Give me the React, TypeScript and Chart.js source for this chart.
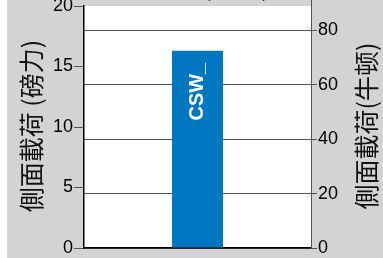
import React, { useEffect, useRef } from 'react';
import { Chart, registerables } from 'chart.js';

Chart.register(...registerables);

// ---- data ----
const categories = ['CSW_'];
const lateralLoadLbf = [16.3];
const leftTickValues = [0, 5, 10, 15, 20];
const rightTickValues = [0, 20, 40, 60, 80];
const LBF_TO_N = 4.448;
const leftAxisTitle = '側面載荷 (磅力)';
const rightAxisTitle = '側面載荷(牛顿)';
const chartTitlePrefix = '側面載荷 ';
const chartTitle = '側面載荷 (磅力)';

const W = 376;
const H = 288;
const TICK_FONT = '"Liberation Sans", Arial, sans-serif';
const CJK_FONT = '"Noto Sans CJK TC", "Noto Sans CJK SC", sans-serif';

export default function App() {
  const ref = useRef<HTMLCanvasElement>(null);

  useEffect(() => {
    const canvas = ref.current!;
    const customPlugin = {
      id: 'customText',
      beforeDraw(chart: any) {
        const { ctx, chartArea: a } = chart;
        ctx.save();
        ctx.fillStyle = '#ffffff';
        ctx.fillRect(a.left, a.top, a.right - a.left, a.bottom - a.top);
        ctx.restore();
      },
      afterDatasetsDraw(chart: any) {
        const { ctx } = chart;
        const meta = chart.getDatasetMeta(0);
        meta.data.forEach((bar: any, i: number) => {
          ctx.save();
          ctx.translate(bar.x, bar.y + 12);
          ctx.rotate(-Math.PI / 2);
          ctx.font = `bold 20px ${TICK_FONT}`;
          ctx.fillStyle = '#ffffff';
          ctx.textAlign = 'right';
          ctx.textBaseline = 'middle';
          ctx.fillText(categories[i], 0, 0);
          ctx.restore();
        });
      },
      afterDraw(chart: any) {
        const { ctx, chartArea: a } = chart;
        const cy = (a.top + a.bottom) / 2 - 1;
        ctx.save();
        ctx.fillStyle = '#111111';
        ctx.font = `25px ${CJK_FONT}`;
        ctx.textAlign = 'center';
        ctx.textBaseline = 'middle';
        // left title
        ctx.save();
        ctx.translate(24, cy);
        ctx.rotate(-Math.PI / 2);
        ctx.fillText(leftAxisTitle, 0, 0);
        ctx.restore();
        // right title
        ctx.save();
        ctx.translate(359, cy);
        ctx.rotate(-Math.PI / 2);
        ctx.fillText(rightAxisTitle, 0, 0);
        ctx.restore();
        // cropped chart title (only its lowest edge is visible)
        ctx.textAlign = 'left';
        ctx.textBaseline = 'alphabetic';
        const pw = ctx.measureText(chartTitlePrefix).width;
        ctx.fillText(chartTitle, 196 - pw, 26);
        // right axis line extends above plot
        const rx = Math.round(chart.scales.y2.left) + 0.5;
        ctx.strokeStyle = '#555555';
        ctx.lineWidth = 1;
        ctx.beginPath();
        ctx.moveTo(rx, 20);
        ctx.lineTo(rx, a.top);
        ctx.stroke();
        ctx.restore();
      },
    };

    const chart = new Chart(canvas, {
      type: 'bar',
      data: {
        labels: categories,
        datasets: [
          {
            data: lateralLoadLbf,
            backgroundColor: '#0077c0',
            borderWidth: 0,
            categoryPercentage: 1,
            barPercentage: 0.2247,
            yAxisID: 'y',
          },
        ],
      },
      options: {
        animation: false,
        responsive: false,
        maintainAspectRatio: false,
        devicePixelRatio: 1,
        layout: { padding: { top: 36, bottom: 9, left: 0, right: 0 } },
        plugins: {
          legend: { display: false },
          tooltip: { enabled: false },
          title: { display: false },
        },
        scales: {
          x: {
            type: 'category',
            offset: true,
            grid: { display: false, drawOnChartArea: false, drawTicks: false },
            ticks: { display: false },
            border: { display: true, color: '#000000', width: 1.5 },
            afterFit(s: any) {
              s.height = 0;
            },
          },
          y: {
            position: 'left',
            min: 0,
            max: 20,
            afterBuildTicks(s: any) {
              s.ticks = leftTickValues.map((v) => ({ value: v }));
            },
            ticks: {
              font: { family: TICK_FONT, size: 18, lineHeight: 1 },
              color: '#000000',
              padding: 1,
            },
            grid: { drawOnChartArea: false, drawTicks: true, tickLength: 10, color: '#555555' },
            border: { color: '#000000', width: 1.5 },
            afterFit(s: any) {
              s.width = 77;
            },
          },
          y2: {
            position: 'right',
            min: 0,
            max: 20 * LBF_TO_N,
            afterBuildTicks(s: any) {
              s.ticks = rightTickValues.map((v) => ({ value: v }));
            },
            ticks: {
              font: { family: TICK_FONT, size: 18, lineHeight: 1 },
              color: '#000000',
              padding: 1,
            },
            grid: { drawOnChartArea: true, drawTicks: true, tickLength: 6, color: '#555555' },
            border: { color: '#555555', width: 1 },
            afterFit(s: any) {
              s.width = 72;
            },
          },
        },
      },
      plugins: [customPlugin],
    } as any);

    return () => chart.destroy();
  }, []);

  return (
    <div
      style={{
        position: 'absolute',
        left: 7,
        top: -30,
        width: W,
        height: H,
        background: '#d3d3d3',
        overflow: 'hidden',
      }}
    >
      <canvas ref={ref} width={W} height={H} style={{ display: 'block', width: W, height: H }} />
    </div>
  );
}
